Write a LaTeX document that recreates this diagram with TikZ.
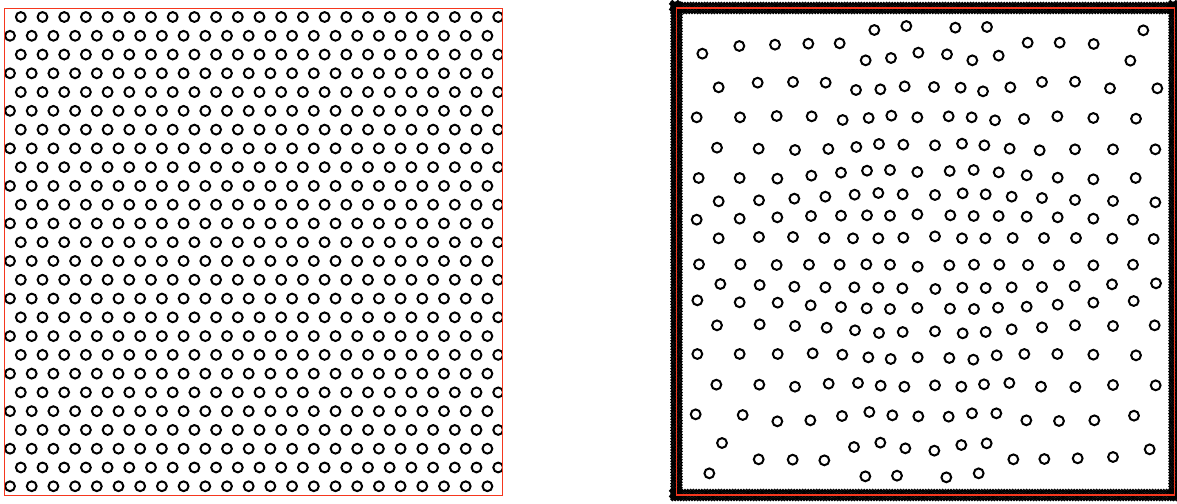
\documentclass[tikz,border=0pt]{standalone}
\definecolor{boxred}{RGB}{245,55,30}
\tikzset{
  ring/.style={draw=black,line width=2pt},
  banddot/.style={draw=black,line width=1.3pt},
  redbox/.style={draw=boxred,line width=1.5pt}
}
\begin{document}
\begin{tikzpicture}[x=1pt,y=-1pt]
\useasboundingbox (0,0) rectangle (1177,503);
% ---------- left panel: hexagonal lattice ----------
\begin{scope}
  \clip (4.5,8.5) rectangle (502.5,495.5);
  \foreach \j in {0,2,...,24}{
    \foreach \k in {0,...,22}{
      \draw[ring] ({20.8+21.7*\k},{17+18.77*\j}) circle[radius=4.9pt];
    }
  }
  \foreach \j in {1,3,...,25}{
    \foreach \k in {0,...,22}{
      \draw[ring] ({10+21.7*\k},{17+18.77*\j}) circle[radius=4.9pt];
    }
  }
\end{scope}
\draw[redbox] (4.5,8.5) rectangle (502.5,495.5);
% ---------- right panel: boundary band of small circles ----------
\foreach \o/\s in {-4.2/0,-1.4/1.4,1.4/0,4.2/1.4}{
  \foreach \i in {0,...,181}{
    \draw[banddot] ({671+\s+2.8*\i},{8+\o}) circle[radius=1.3pt];
    \draw[banddot] ({671+\s+2.8*\i},{495+\o}) circle[radius=1.3pt];
  }
  \foreach \i in {0,...,177}{
    \draw[banddot] ({676.5+\o},{2+\s+2.8*\i}) circle[radius=1.3pt];
    \draw[banddot] ({1174.5+\o},{2+\s+2.8*\i}) circle[radius=1.3pt];
  }
}
% ---------- right panel: scattered circles (upper half) ----------
\foreach \a/\b in {
613/90,709/78,856/83,951/81,1420/91,
97/161,208/138,315/134,415/131,509/130,1073/128,1169/128,1271/132,
587/181,663/174,745/158,831/163,907/181,986/167,1381/182,
146/262,263/248,369/246,467/248,558/270,631/268,704/259,792/261,872/263,939/274,1021/262,1116/246,1215/245,1320/265,1462/265,
80/352,210/352,320/348,425/349,518/360,596/354,664/347,742/352,836/349,905/352,975/361,1062/357,1162/349,1270/354,1398/356,
141/443,266/446,375/450,475/447,559/441,627/432,700/434,795/436,876/431,943/436,1019/446,1109/451,1215/448,1329/448,1456/448,
86/534,209/534,322/536,424/527,513/518,591/512,660/510,742/516,839/513,911/510,986/517,1070/526,1163/533,1270/538,1397/534,
146/604,267/601,373/596,466/590,554/584,625/579,698/583,795/585,878/580,947/583,1025/590,1116/594,1215/600,1329/603,1456/607,
80/659,209/656,322/652,423/648,513/647,591/646,660/647,742/643,841/646,911/648,986/648,1070/650,1163/652,1270/656,1389/659,
146/715,267/711,369/711,463/714,549/715,625/715,700/713,795/709,876/715,946/715,1028/714,1122/714,1218/714,1327/716,1451/717}{
  \draw[ring] ({670+\a/3},{\b/3}) circle[radius=4.9pt];
}
% ---------- right panel: scattered circles (lower half) ----------
\foreach \a/\b in {
87/49,211/49,320/51,417/50,509/50,589/49,660/50,743/56,838/52,912/50,988/50,1074/51,1167/52,1270/52,1389/50,
151/108,269/111,373/116,466/118,553/118,625/119,697/121,796/123,877/119,947/120,1025/118,1116/117,1214/114,1326/109,1458/106,
82/157,209/163,323/164,422/172,513/177,590/181,660/183,742/180,840/182,912/183,984/179,1070/176,1163/170,1270/164,1391/159,
141/232,269/229,375/234,470/239,555/247,627/255,698/252,795/250,878/256,947/252,1025/244,1116/238,1215/232,1329/234,1454/232,
82/318,209/318,323/318,428/316,517/320,595/328,662/333,743/328,838/330,910/335,980/322,1063/318,1162/318,1270/320,1398/322,
139/410,268/410,375/416,476/407,564/405,632/413,703/416,795/412,874/416,942/409,1018/405,1113/416,1216/417,1329/411,1457/412,
77/499,218/501,322/520,421/517,516/504,598/492,667/502,745/505,836/506,906/496,979/496,1069/517,1167/519,1273/517,1392/503,
156/585,266/634,368/635,463/637,552/597,631/584,706/601,793/608,874/591,950/586,1030/634,1123/633,1223/631,1329/627,1439/604,
118/676,586/685,681/683,829/688,926/676}{
  \draw[ring] ({670+\a/3},{248+\b/3}) circle[radius=4.9pt];
}
\draw[redbox] (676.5,8) rectangle (1174.5,495);
\end{tikzpicture}
\end{document}
